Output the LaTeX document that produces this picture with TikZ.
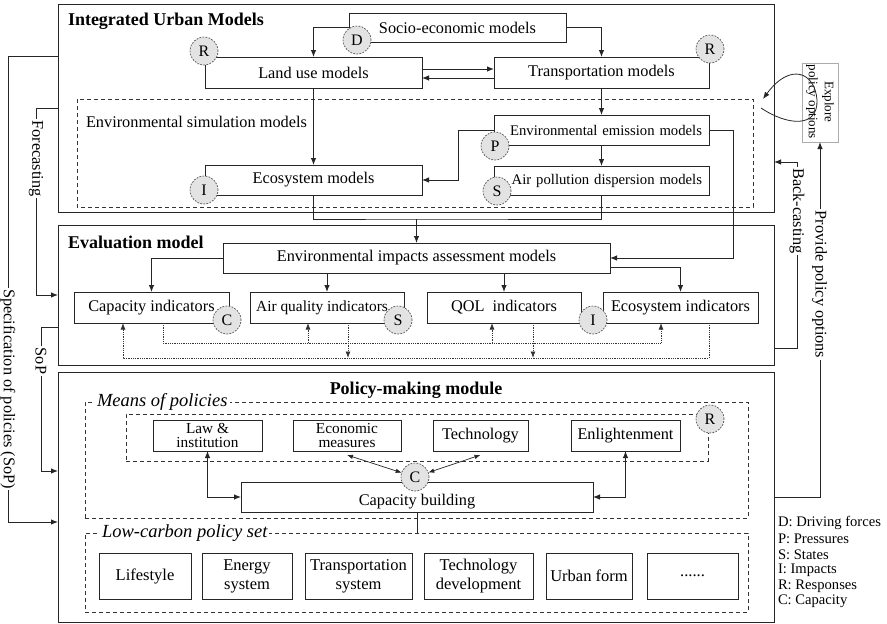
\documentclass[tikz,border=0pt]{standalone}
\usepackage{fontspec}
\setmainfont{Liberation Serif}
\usetikzlibrary{arrows.meta,calc}

\begin{document}
\begin{tikzpicture}[x=1pt,y=-1pt,
  every node/.style={inner sep=0pt, outer sep=0pt},
  ln/.style={draw=black!85, line width=0.9pt},
  frame/.style={draw=black!85, line width=1pt},
  dashbox/.style={draw=black!80, line width=0.8pt, dash pattern=on 4pt off 3pt},
  mbox/.style={draw=black!85, line width=0.9pt, fill=white, align=center,
    font=\fontsize{16.3}{17}\selectfont},
  sbox/.style={mbox, font=\fontsize{14.7}{16}\selectfont},
  pbox/.style={mbox, font=\fontsize{15.3}{14.6}\selectfont},
  lbox/.style={mbox, font=\fontsize{16.5}{19}\selectfont},
  circ/.style={circle, draw=black!75, line width=0.6pt, dash pattern=on 1.8pt off 1.3pt,
    fill=gray!22, minimum size=28pt, font=\fontsize{16}{16}\selectfont},
  ttl/.style={font=\fontsize{18}{20}\selectfont\bfseries},
  itl/.style={font=\fontsize{18.5}{20}\selectfont\itshape, fill=white, inner xsep=2pt, inner ysep=1pt},
  txt/.style={font=\fontsize{16.3}{17}\selectfont},
  side/.style={font=\fontsize{16.3}{17}\selectfont, rotate=-90, fill=white, inner xsep=1.5pt, inner ysep=1pt},
  lgd/.style={font=\fontsize{14.6}{15}\selectfont, anchor=west},
  tip/.style={-{Latex[length=7pt,width=5.5pt]}},
  arr/.style={ln, tip},
  dbl/.style={ln, {Latex[length=7pt,width=5.5pt]}-{Latex[length=7pt,width=5.5pt]}},
  dbls/.style={draw=black!85, line width=0.7pt, {Latex[length=6pt,width=4.5pt]}-{Latex[length=6pt,width=4.5pt]}},
  dotarr/.style={draw=black!80, line width=0.8pt, dash pattern=on 0.8pt off 1pt,
    -{Latex[length=6.5pt,width=5pt]}},
]
\useasboundingbox (0,0) rectangle (887,624);

% ---------------- module frames ----------------
\node[frame, minimum width=716pt, minimum height=208pt] (iu) at (416,108) {};
\node[frame, minimum width=716pt, minimum height=140pt] (eval) at (416,295) {};
\node[frame, minimum width=716pt, minimum height=250pt] (pol) at (416,497) {};

\node[ttl, anchor=west] (iuT) at (68,21) {Integrated Urban Models};
\node[ttl, anchor=west] (evalT) at (68,242) {Evaluation model};
\node[ttl] (polT) at (416,390) {Policy-making module};

% ---------------- integrated urban models ----------------
\draw[dashbox] (77,99) rectangle (753,207);
\node[txt, anchor=west] (envT) at (86,122) {Environmental simulation models};

\node[mbox, minimum width=217pt, minimum height=29pt] (socio) at (457.5,27.5) {Socio-economic models};
\node[mbox, minimum width=217pt, minimum height=31pt] (landuse) at (313.5,72.5) {Land use models};
\node[mbox, minimum width=215pt, minimum height=31pt] (transp) at (601.5,72.5) {Transportation models};
\node[mbox, minimum width=217pt, minimum height=30pt] (ecosys) at (313.5,180) {Ecosystem models};
\node[sbox, minimum width=215pt, minimum height=30pt, text width=201pt, align=right] (emis) at (601.5,130) {Environmental emission models};
\node[sbox, minimum width=215pt, minimum height=29pt, text width=201pt, align=right] (disp) at (601.5,180.5) {Air pollution dispersion models};

\draw[arr] (socio.west) -| (landuse.north);
\draw[arr] (socio.east) -| (transp.north);
\draw[arr] ([yshift=3.5pt]landuse.east) -- ([yshift=3.5pt]transp.west);
\draw[arr] ([yshift=-5.5pt]transp.west) -- ([yshift=-5.5pt]landuse.east);
\draw[arr] (landuse.south) -- (ecosys.north);
\draw[arr] (transp.south) -- (emis.north);
\draw[arr] (emis.south) -- (disp.north);
\draw[arr] (emis.west) -- ++(-36,0) |- (ecosys.east);

\node[circ] (cD) at (357,40) {D};
\node[circ] (cR1) at (204,51) {R};
\node[circ] (cR2) at (710,49) {R};
\node[circ] (cI1) at (204,190) {I};
\node[circ] (cP) at (495,146) {P};
\node[circ] (cS1) at (497,191) {S};

% ---------------- evaluation model ----------------
\node[mbox, minimum width=387pt, minimum height=30pt] (eia) at (416.5,258) {Environmental impacts assessment models};
\node[mbox, minimum width=155pt, minimum height=31pt] (capi) at (151.5,307.5) {Capacity indicators};
\node[mbox, minimum width=154pt, minimum height=31pt, font=\fontsize{15.4}{17}\selectfont] (airq) at (327,307.5) {Air quality indicators\hspace{10pt}};
\node[mbox, minimum width=154pt, minimum height=31pt] (qol) at (504,307.5) {QOL\hspace{4pt} indicators};
\node[mbox, minimum width=155pt, minimum height=31pt] (ecoi) at (680.5,307.5) {Ecosystem indicators};

\coordinate (jn) at (416.5,219);
\draw[ln] (ecosys.south) |- (jn) -| (disp.south);
\draw[arr] (jn) -- (eia.north);
\draw[arr] (emis.east) -- ++(24,0) |- (eia.east);

\draw[arr] (eia.west) -| (capi.north);
\draw[arr] (airq.north |- eia.south) -- (airq.north);
\draw[arr] (qol.north |- eia.south) -- (qol.north);
\draw[arr] ([yshift=-9pt]eia.east) -| (ecoi.north);

\coordinate (busU) at (0,343);
\coordinate (busL) at (0,358);
\draw[dotarr] ([xshift=11.5pt]capi.south) |- ([xshift=-19.5pt]ecoi.south |- busU) -- ([xshift=-19.5pt]ecoi.south);
\draw[dotarr] ([xshift=-19pt]airq.south |- busU) -- ([xshift=-19pt]airq.south);
\draw[dotarr] ([xshift=-12pt]qol.south |- busU) -- ([xshift=-12pt]qol.south);
\draw[dotarr] ([xshift=28.5pt]ecoi.south) |- ([xshift=-28.5pt]capi.south |- busL) -- ([xshift=-28.5pt]capi.south);
\draw[dotarr] ([xshift=21pt]airq.south) -- ([xshift=21pt]airq.south |- busL);
\draw[dotarr] ([xshift=29pt]qol.south) -- ([xshift=29pt]qol.south |- busL);

\node[circ] (cC1) at (227,320) {C};
\node[circ] (cS2) at (398,320) {S};
\node[circ] (cI2) at (593,320) {I};

% ---------------- policy-making module ----------------
\node[dashbox, minimum width=663pt, minimum height=116pt] (means) at (416.5,460) {};
\node[itl, anchor=west] (meansT) at (95,402) {Means of policies};
\node[dashbox, minimum width=582pt, minimum height=47pt] (inner) at (417,437.5) {};

\node[pbox, minimum width=109pt, minimum height=31pt] (law) at (207.5,435.5) {Law \&\\institution};
\node[pbox, minimum width=108pt, minimum height=31pt] (econ) at (347,435.5) {Economic\\measures};
\node[mbox, minimum width=95pt, minimum height=31pt] (tech) at (480.5,435.5) {Technology};
\node[mbox, minimum width=109pt, minimum height=31pt] (enl) at (625.5,435.5) {Enlightenment};
\node[mbox, minimum width=352pt, minimum height=30pt, text depth=0pt] (capb) at (417,497) {\raisebox{-6pt}{Capacity building}};

\node[circ] (cR3) at (710,419) {R};
\node[circ] (cC2) at (415,477) {C};

\draw[dbl] (law.south) |- (capb.west);
\draw[dbl] (enl.south) |- (capb.east);
\draw[dbls] ([yshift=-4pt]econ.south) -- (cC2);
\draw[dbls] ([yshift=-4pt]tech.south) -- (cC2);

\node[dashbox, minimum width=663pt, minimum height=79pt] (lowc) at (416.5,572.5) {};
\node[itl, anchor=west] (lowcT) at (100,533) {Low-carbon policy set};
\draw[ln] (capb.south) -- (capb.south |- lowc.north);

\node[lbox, minimum width=92pt, minimum height=46pt] (life) at (145,576) {Lifestyle};
\node[lbox, minimum width=90pt, minimum height=46pt] (energy) at (247,576) {Energy\\system};
\node[lbox, minimum width=107pt, minimum height=46pt] (tsys) at (358.5,576) {Transportation\\system};
\node[lbox, minimum width=109pt, minimum height=46pt] (tdev) at (478.5,576) {Technology\\development};
\node[lbox, minimum width=86pt, minimum height=46pt] (urban) at (589,576) {Urban form};
\node[lbox, minimum width=91pt, minimum height=46pt] (more) at (692.5,576) {......};

% ---------------- feedback connectors ----------------
\draw[arr] (iu.west) -- ++(-22,0) |- (eval.west);
\node[side] (fcT) at (36,158.5) {Forecasting};

\draw[arr] ([yshift=52pt]iu.west) -- ++(-50,0) |- ([yshift=-25pt]pol.west);
\node[side] (specT) at (8,389) {Specification of policies (SoP)};

\draw[arr] ([yshift=-32pt]eval.west) -- ++(-17,0) |- ([yshift=26pt]pol.west);
\node[side] (sopT) at (41,361) {SoP};

\draw[arr] ([yshift=-53pt]eval.east) -- ++(23,0) |- ([yshift=-54pt]iu.east);
\node[side] (bcT) at (797,211) {Back-casting};

\node[draw=gray!65, line width=0.7pt, minimum width=36pt, minimum height=79pt] (expl) at (820,102.5) {};
\node[rotate=-90, align=center, font=\fontsize{13}{16}\selectfont] (explT) at (820,102) {Explore\\policy options};
\draw[arr] (pol.east) -| (expl.south);
\node[side] (ppT) at (819.5,284.5) {Provide policy options};

\coordinate (loopS) at (761,108);
\coordinate (loopE) at (763,99);
\draw[draw=black!85, line width=0.8pt, tip] (loopS) .. controls (788,126) and (818,128) .. (817,100)
  .. controls (815,72) and (790,62) .. (loopE);

% ---------------- legend ----------------
\node[lgd] (lgD) at (778,523) {D: Driving forces};
\node[lgd] (lgP) at (778,539) {P: Pressures};
\node[lgd] (lgS) at (778,554.5) {S: States};
\node[lgd] (lgI) at (778,570) {I: Impacts};
\node[lgd] (lgR) at (778,586) {R: Responses};
\node[lgd] (lgC) at (778,601.5) {C: Capacity};
\end{tikzpicture}
\end{document}
